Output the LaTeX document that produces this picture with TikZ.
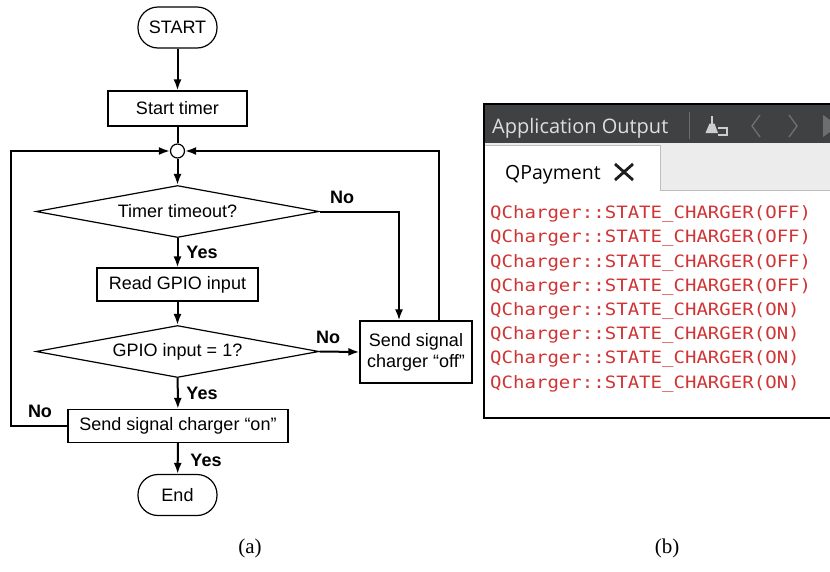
\documentclass[tikz,border=0pt]{standalone}
\usepackage{fontspec}
\usepackage{graphicx}
\setmainfont{Liberation Sans}
\newfontfamily\serifA{Liberation Serif}
\newfontfamily\uifont{Open Sans}
\newfontfamily\monoA{DejaVu Sans Mono}
\usetikzlibrary{shapes.geometric,arrows.meta,calc}
\definecolor{hdr}{RGB}{64,65,66}
\definecolor{hdrtext}{RGB}{222,222,222}
\definecolor{tabbg}{RGB}{236,236,236}
\definecolor{tabline}{RGB}{190,190,190}
\definecolor{errred}{RGB}{208,52,52}
\definecolor{iconc}{RGB}{205,205,205}
\definecolor{chevc}{RGB}{110,110,112}
\definecolor{xcol}{RGB}{30,30,30}
\begin{document}
\begin{tikzpicture}[x=1pt,y=-1pt,
  fc/.style={font=\fontsize{18}{21}\selectfont},
  proc/.style={draw, line width=1.2pt, rectangle, inner sep=0pt, fc, align=center},
  term/.style={draw, line width=1.2pt, rectangle, rounded corners=20pt, minimum width=79pt, minimum height=41pt, inner sep=0pt, fc},
  dec/.style={draw, line width=1.2pt, diamond, aspect=5.44, minimum width=283pt, minimum height=52pt, inner sep=0pt, fc},
  conn/.style={line width=2pt, -{Latex[length=11pt,width=8pt]}},
  plain/.style={line width=2pt},
  lbl/.style={font=\fontsize{18}{21}\selectfont\bfseries, inner sep=0pt},
  mono/.style={anchor=base west, text=errred, font=\monoA\fontsize{17}{17}\selectfont, inner sep=0pt},
  captxt/.style={font=\serifA\fontsize{21}{21}\selectfont, inner sep=0pt}
]
\useasboundingbox (0,0) rectangle (830,571);

% ---------------- (a) flowchart ----------------
\node[term] (start) at (177.5,27.5) {START};
\node[proc, minimum width=139pt, minimum height=35pt] (timer) at (177.5,108.5) {Start timer};
\node[draw, circle, line width=1.2pt, minimum size=14pt, inner sep=0pt, fill=white] (junc) at (177.5,151) {};
\node[dec] (d1) at (177.5,211.5) {Timer timeout?};
\node[proc, minimum width=161pt, minimum height=33pt] (read) at (177.5,284.5) {Read GPIO input};
\node[dec] (d2) at (177.5,351.5) {GPIO input = 1?};
\node[proc, minimum width=112pt, minimum height=62pt] (off) at (416,352) {Send signal\\charger “off”};
\node[proc, minimum width=220pt, minimum height=33pt] (on) at (178,426) {Send signal charger “on”};
\node[term] (end) at (177.5,495) {End};

\coordinate (offa) at ($(off.north west)!0.35!(off.north east)$);
\coordinate (offb) at ($(off.north west)!0.70!(off.north east)$);
\coordinate (lc) at (11,426);

\draw[conn] (start) -- (timer);
\draw[plain] (timer) -- (junc);
\draw[conn] (junc) -- (d1);
\draw[conn] (d1.east) -| (offa);
\draw[conn] (offb) |- (junc.east);
\draw[conn] (d1) -- (read);
\draw[conn] (read) -- (d2);
\draw[conn] (d2.east) -- (off.west);
\draw[conn] (d2) -- (on);
\draw[conn] (on.west) -- (lc) |- (junc.west);
\draw[conn] (on) -- (end);

\node[lbl] (no1) at (342,197) {No};
\node[lbl] (no2) at (328,337) {No};
\node[lbl] (no3) at (40,411) {No};
\node[lbl] (yes1) at (202,252) {Yes};
\node[lbl] (yes2) at (202,393) {Yes};
\node[lbl] (yes3) at (206,460) {Yes};

\node[captxt] (capa) at (250,548) {(a)};

% ---------------- (b) screenshot ----------------
\fill[hdr] (484,104) rectangle (830,143);
\fill[tabbg] (484,143) rectangle (830,190);
\draw[tabline, line width=1pt] (660,190) -- (830,190);
\fill[white] (485,191) rectangle (830,418);
\fill[white] (485,145) rectangle (660,192);
\draw[tabline, line width=1pt] (485,145) -- (660,145) -- (660,190);
\draw[black, line width=1.2pt] (830,104) -- (484,104) -- (484,418) -- (830,418);

\node[anchor=base west, text=hdrtext, font=\uifont\fontsize{20}{20}\selectfont, inner sep=0pt] (apptitle) at (492,133) {Application Output};
\draw[chevc, line width=1pt] (689,112) -- (689,139);
% broom icon
\draw[iconc, line width=1.6pt] (712,116) -- (712,124);
\fill[iconc] (709.5,123.5) -- (714.5,123.5) -- (718,133) -- (705.5,133) -- cycle;
\draw[iconc, line width=1.3pt] (718,128) -- (727,128) -- (727,135) -- (718,135);
% navigation
\draw[chevc, line width=1.4pt] (760,115) -- (752,126) -- (760,137);
\draw[chevc, line width=1.4pt] (789,115) -- (797,126) -- (789,137);
\fill[chevc] (823,115) -- (830,120) -- (830,132) -- (823,137) -- cycle;

\node[anchor=base west, text=black, font=\uifont\fontsize{19.5}{19.5}\selectfont, inner sep=0pt] (tabtitle) at (505,179) {QPayment};
\draw[xcol, line width=2.8pt] (615,164) -- (633,180) (615,180) -- (633,164);

\foreach \t [count=\i from 0] in {OFF,OFF,OFF,OFF,ON,ON,ON,ON}{
  \node[mono] (ln\i) at (490,{218.7+24.2*\i}) {\scalebox{1.12}[1]{QCharger::STATE\_CHARGER(\t)}};
}

\node[captxt] (capb) at (667,548) {(b)};
\end{tikzpicture}
\end{document}
